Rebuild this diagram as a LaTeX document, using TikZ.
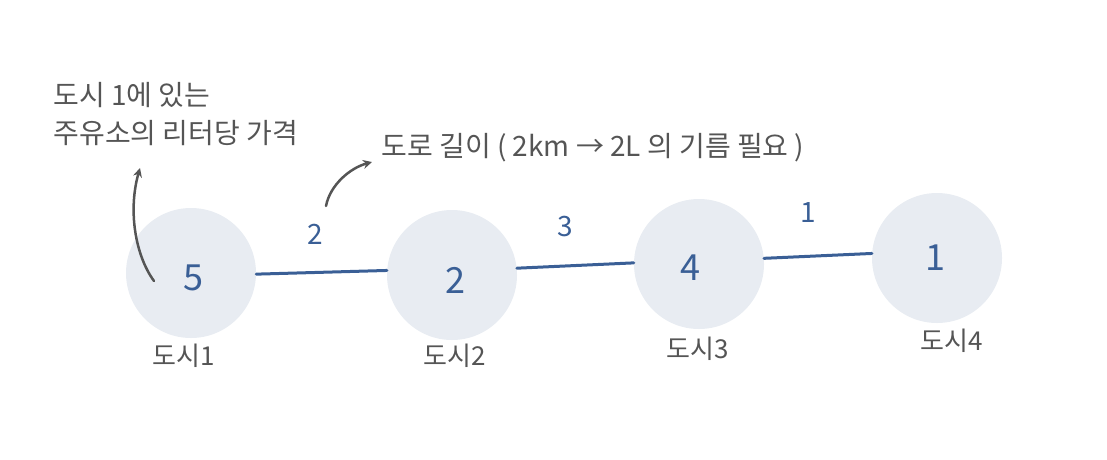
\documentclass[tikz,border=0pt]{standalone}
\usepackage{fontspec}
\setmainfont{Noto Sans CJK KR}
\usetikzlibrary{arrows.meta}
\definecolor{cfill}{HTML}{E8ECF2}
\definecolor{cblue}{HTML}{3A5F96}
\definecolor{cgray}{HTML}{555555}
\begin{document}
\begin{tikzpicture}[x=1pt,y=-1pt,
  city/.style={circle,fill=cfill,minimum size=130pt,inner sep=0pt},
  num/.style={font=\fontsize{36}{38}\selectfont,text=cblue},
  elab/.style={font=\fontsize{28}{30}\selectfont,text=cblue},
  cname/.style={font=\fontsize{26}{28}\selectfont,text=cgray},
  note/.style={font=\fontsize{28}{38}\selectfont,text=cgray,align=left},
  edge/.style={draw=cblue,line width=3pt,line cap=round},
  pointer/.style={draw=cgray,line width=2.5pt,line cap=round,-{Stealth[length=9pt,width=9pt]}}]
\useasboundingbox (0,0) rectangle (1107,459);
\node[city] (c1) at (191,273) {};
\node[city] (c2) at (452,275) {};
\node[city] (c3) at (699,264) {};
\node[city] (c4) at (937,258) {};
\node[num] (n1) at (193,278) {5};
\node[num] (n2) at (455,280) {2};
\node[num] (n3) at (690,268) {4};
\node[num] (n4) at (935,258) {1};
\draw[edge] (c1.359) -- (c2.176);
\draw[edge] (c2.6) -- (c3.179);
\draw[edge] (c3.5) -- (c4.176);
\node[elab] (e1) at (315,234) {2};
\node[elab] (e2) at (565,227) {3};
\node[elab] (e3) at (808,213) {1};
\node[cname] (l1) at (184,356) {도시1};
\node[cname] (l2) at (455,356) {도시2};
\node[cname] (l3) at (698,349) {도시3};
\node[cname] (l4) at (952,341) {도시4};
\node[note,anchor=west] (t1) at (50,114) {도시 1에 있는\\주유소의 리터당 가격};
\node[note,anchor=west] (t2) at (378,148) {도로 길이 ( 2km → 2L 의 기름 필요 )};
\coordinate (a1s) at (154,281);
\coordinate (a1e) at (140,168);
\coordinate (a2s) at (326,206);
\coordinate (a2e) at (372,162);
\draw[pointer] (a1s) .. controls (135,255) and (128,210) .. (a1e);
\draw[pointer] (a2s) .. controls (330,185) and (350,168) .. (a2e);
\end{tikzpicture}
\end{document}
